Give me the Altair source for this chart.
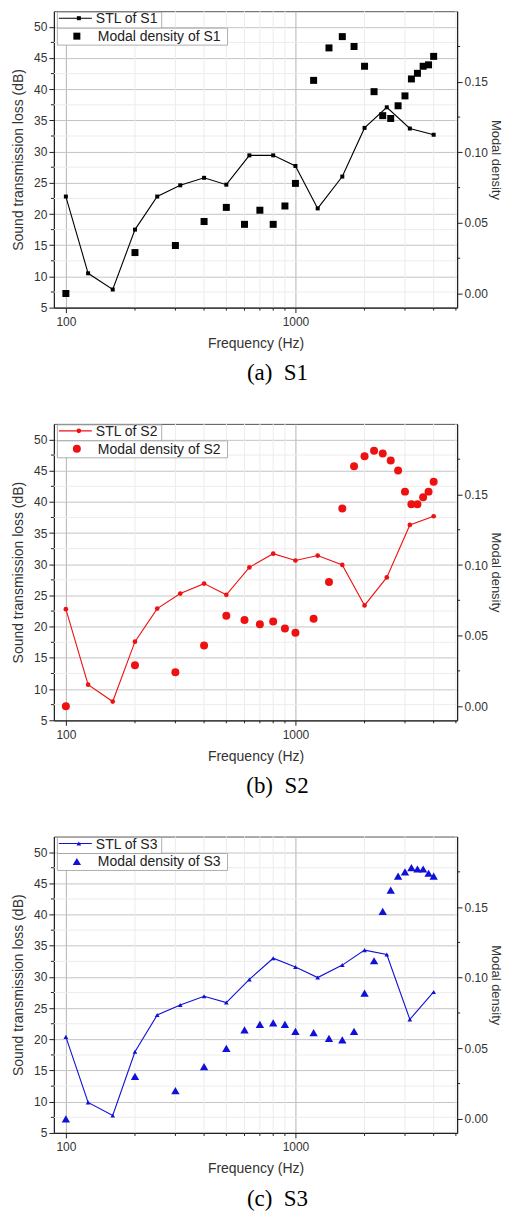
import altair as alt
import pandas as pd

# ---------------- data ----------------
stl_freq = [100, 125, 160, 200, 250, 315, 400, 500, 630, 800, 1000, 1250, 1600, 2000, 2500, 3150, 4000]
md_freq = [100, 200, 300, 400, 500, 600, 700, 800, 900, 1000, 1200, 1400, 1600, 1800, 2000,
           2200, 2400, 2600, 2800, 3000, 3200, 3400, 3600, 3800, 4000]

stl_s1 = [22.8, 10.5, 7.9, 17.5, 22.8, 24.6, 25.8, 24.7, 29.4, 29.4, 27.7, 20.9, 26.0, 33.8, 37.1, 33.7, 32.7]
md_s1 = [0.000, 0.029, 0.034, 0.051, 0.061, 0.049, 0.059, 0.049, 0.062, 0.078, 0.151, 0.174, 0.182,
         0.175, 0.161, 0.143, 0.126, 0.124, 0.133, 0.140, 0.152, 0.156, 0.161, 0.162, 0.168]

stl_s2 = [22.8, 10.7, 8.0, 17.6, 22.9, 25.3, 26.9, 25.1, 29.5, 31.7, 30.6, 31.4, 29.9, 23.4, 27.9, 36.3, 37.7]
md_s2 = [0.000, 0.029, 0.024, 0.043, 0.064, 0.061, 0.058, 0.060, 0.055, 0.052, 0.062, 0.088, 0.140,
         0.170, 0.177, 0.181, 0.179, 0.174, 0.167, 0.152, 0.143, 0.143, 0.148, 0.152, 0.159]

stl_s3 = [20.4, 9.9, 7.8, 18.0, 23.9, 25.5, 26.9, 25.9, 29.6, 33.0, 31.6, 29.9, 31.9, 34.3, 33.6, 23.2, 27.6]
md_s3 = [0.000, 0.030, 0.020, 0.037, 0.050, 0.063, 0.067, 0.068, 0.067, 0.062, 0.061, 0.057, 0.056,
         0.062, 0.089, 0.112, 0.147, 0.162, 0.172, 0.175, 0.178, 0.177, 0.177, 0.174, 0.172]

# tick values
x_major = [100, 1000]
x_minor = [200, 300, 400, 500, 600, 700, 800, 900, 2000, 3000, 4000, 5000]
left_major = [5, 10, 15, 20, 25, 30, 35, 40, 45, 50]
left_minor = [7.5, 12.5, 17.5, 22.5, 27.5, 32.5, 37.5, 42.5, 47.5]
right_major = [0.0, 0.05, 0.10, 0.15]
right_minor = [0.025, 0.075, 0.125, 0.175]

# ---------------- layout constants ----------------
W, H = 404, 297
X_DOMAIN = [88.7, 5060]
Y_LEFT = [5, 52.5]
Y_RIGHT = [-0.01, 0.20]
SANS = "Liberation Sans"
SERIF = "Liberation Serif"
AX = "#222222"
MINOR_GRID = "#ececec"

XS = alt.Scale(type="log", domain=X_DOMAIN, nice=False, zero=False)
YSL = alt.Scale(domain=Y_LEFT, nice=False, zero=False)
YSR = alt.Scale(domain=Y_RIGHT, nice=False, zero=False)

X_AXIS = alt.Axis(
    values=x_major, format="d", grid=True, gridColor="#b4b4b4", gridWidth=1,
    domainColor=AX, domainWidth=1.2, tickColor=AX, tickSize=5, labelPadding=4,
    labelFont=SANS, labelFontSize=12, labelColor="#333333",
    title="Frequency (Hz)", titleFont=SANS, titleFontSize=14, titleFontWeight="normal",
    titleColor="#333333", titlePadding=9,
)
YL_AXIS = alt.Axis(
    values=left_major, grid=True, gridColor="#c4c4c4", gridWidth=1,
    domainColor=AX, domainWidth=1.2, tickColor=AX, tickSize=5, labelPadding=2,
    labelFont=SANS, labelFontSize=12, labelColor="#333333",
    title="Sound transmission loss (dB)", titleFont=SANS, titleFontSize=14,
    titleFontWeight="normal", titleColor="#333333", titlePadding=8,
)
YR_AXIS = alt.Axis(
    orient="right", values=right_major, format=".2f", grid=False,
    domainColor=AX, domainWidth=1.2, tickColor=AX, tickSize=5, labelPadding=2,
    labelFont=SANS, labelFontSize=12, labelColor="#333333",
    title="Modal density", titleFont=SANS, titleFontSize=13,
    titleFontWeight="normal", titleColor="#333333", titlePadding=1,
)


def X(field):
    return alt.X(field, scale=XS, axis=X_AXIS)


def YL(field):
    return alt.Y(field, scale=YSL, axis=YL_AXIS)


def YR(field):
    return alt.Y(field, scale=YSR, axis=YR_AXIS)


def panel(stl, md, color, shape, stl_size, md_size, name, caption):
    df_stl = pd.DataFrame({"freq": stl_freq, "stl": stl})
    df_md = pd.DataFrame({"freq": md_freq, "md": md})

    vminor = alt.Chart(pd.DataFrame({"f": x_minor})).mark_rule(
        color=MINOR_GRID, strokeWidth=1
    ).encode(x=X("f:Q"), y=alt.value(0), y2=alt.value(H))

    hminor = alt.Chart(pd.DataFrame({"v": left_minor})).mark_rule(
        color=MINOR_GRID, strokeWidth=1
    ).encode(y=YL("v:Q"), x=alt.value(0), x2=alt.value(W))

    xminor_ticks = alt.Chart(pd.DataFrame({"f": x_minor})).mark_rule(
        color=AX, strokeWidth=1
    ).encode(x=X("f:Q"), y=alt.value(H), y2=alt.value(H + 3))

    lminor_ticks = alt.Chart(pd.DataFrame({"v": left_minor})).mark_rule(
        color=AX, strokeWidth=1
    ).encode(y=YL("v:Q"), x=alt.value(-3), x2=alt.value(0))

    line = alt.Chart(df_stl).mark_line(color=color, strokeWidth=1.1).encode(
        x=X("freq:Q"), y=YL("stl:Q"),
    )
    line_pts = alt.Chart(df_stl).mark_point(
        shape=shape, filled=True, color=color, size=stl_size, opacity=1
    ).encode(x=X("freq:Q"), y=YL("stl:Q"))

    # legend (drawn in plot pixel space)
    one = pd.DataFrame({"a": [0]})
    box1 = alt.Chart(one).mark_rect(fill="white", stroke="#9a9a9a", strokeWidth=0.8).encode(
        x=alt.value(3.5), x2=alt.value(108), y=alt.value(1), y2=alt.value(17))
    box2 = alt.Chart(one).mark_rect(fill="white", stroke="#9a9a9a", strokeWidth=0.8).encode(
        x=alt.value(3.5), x2=alt.value(174), y=alt.value(17), y2=alt.value(34))
    leg_line = alt.Chart(one).mark_rule(color=color, strokeWidth=1.1).encode(
        x=alt.value(5), x2=alt.value(38), y=alt.value(7))
    leg_pt1 = alt.Chart(one).mark_point(shape=shape, filled=True, color=color, size=stl_size, opacity=1).encode(
        x=alt.value(25), y=alt.value(7))
    leg_pt2 = alt.Chart(one).mark_point(shape=shape, filled=True, color=color, size=md_size, opacity=1).encode(
        x=alt.value(23), y=alt.value(25))
    leg_t1 = alt.Chart(pd.DataFrame({"t": ["STL of " + name]})).mark_text(
        align="left", baseline="middle", font=SANS, fontSize=14, color="#222222"
    ).encode(x=alt.value(42), y=alt.value(8), text="t:N")
    leg_t2 = alt.Chart(pd.DataFrame({"t": ["Modal density of " + name]})).mark_text(
        align="left", baseline="middle", font=SANS, fontSize=14, color="#222222"
    ).encode(x=alt.value(44), y=alt.value(26), text="t:N")

    left_group = alt.layer(
        vminor, hminor, xminor_ticks, lminor_ticks, line, line_pts,
        box1, box2, leg_line, leg_pt1, leg_pt2, leg_t1, leg_t2,
    )

    md_pts = alt.Chart(df_md).mark_point(
        shape=shape, filled=True, color=color, size=md_size, opacity=1
    ).encode(x=X("freq:Q"), y=YR("md:Q"))
    rminor_ticks = alt.Chart(pd.DataFrame({"v": right_minor})).mark_rule(
        color=AX, strokeWidth=1
    ).encode(y=YR("v:Q"), x=alt.value(W), x2=alt.value(W + 3))

    right_group = alt.layer(md_pts, rminor_ticks)

    return alt.layer(left_group, right_group).resolve_scale(y="independent").properties(
        width=W, height=H,
        title=alt.TitleParams(caption, orient="bottom", anchor="middle", font=SERIF,
                              fontSize=23, fontWeight="normal", color="#000000", offset=12, dx=22),
    )


NB = "\u00a0"
pa = panel(stl_s1, md_s1, "#000000", "square", 16, 49, "S1", "(a)" + NB + " S1")
pb = panel(stl_s2, md_s2, "#ee1111", "circle", 22, 64, "S2", "(b)" + NB + " S2")
pc = panel(stl_s3, md_s3, "#1010d8", "triangle-up", 22, 70, "S3", "(c)" + NB + " S3")

chart = alt.vconcat(pa, pb, pc, spacing=36.5).properties(
    padding={"left": 3, "top": 1, "right": 2, "bottom": 0}
).configure_view(stroke="#555555", strokeWidth=1)

chart.save("out.html", embed_options={"renderer": "svg", "actions": False})
